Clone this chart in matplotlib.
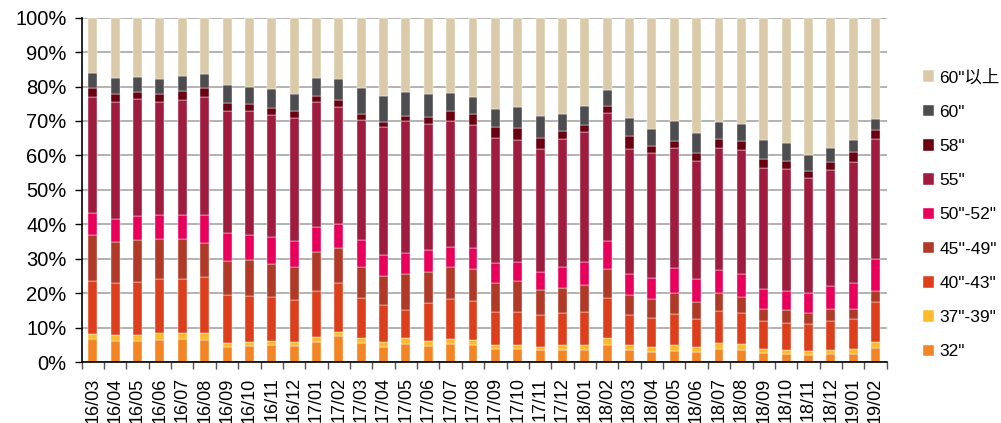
import numpy as np
import matplotlib
matplotlib.use("Agg")
import matplotlib.pyplot as plt
from matplotlib.ticker import FixedLocator

plt.rcParams['font.family'] = ['Liberation Sans', 'Noto Sans CJK SC', 'DejaVu Sans']

months = ["16/03", "16/04", "16/05", "16/06", "16/07", "16/08", "16/09", "16/10", "16/11", "16/12",
          "17/01", "17/02", "17/03", "17/04", "17/05", "17/06", "17/07", "17/08", "17/09", "17/10",
          "17/11", "17/12", "18/01", "18/02", "18/03", "18/04", "18/05", "18/06", "18/07", "18/08",
          "18/09", "18/10", "18/11", "18/12", "19/01", "19/02"]

# Cumulative share (%) at the top of each size band, bottom to top
top_32 = [6.7, 6.1, 6.1, 6.5, 6.7, 6.4, 4.4, 4.7, 5.0, 4.7,
          5.7, 7.6, 5.6, 4.5, 5.3, 4.7, 5.3, 5.0, 3.9, 3.8,
          3.4, 3.6, 3.6, 4.9, 3.6, 3.0, 3.3, 2.9, 3.8, 3.4,
          2.5, 2.2, 2.0, 2.3, 2.3, 4.2]
top_37_39 = [8.2, 7.8, 7.8, 8.3, 8.4, 8.4, 5.5, 5.9, 6.2, 5.8,
             7.3, 8.8, 7.0, 5.7, 6.9, 6.1, 6.7, 6.4, 5.0, 4.9,
             4.5, 4.8, 5.0, 7.0, 5.0, 4.4, 4.8, 4.4, 5.6, 5.3,
             3.9, 3.5, 3.2, 3.6, 3.7, 5.7]
top_40_43 = [23.6, 22.8, 23.3, 24.2, 24.0, 24.6, 19.4, 19.2, 18.9, 17.9,
             20.6, 22.8, 18.7, 16.7, 15.1, 17.0, 18.2, 17.8, 14.5, 14.4,
             13.6, 14.1, 14.5, 18.5, 13.6, 12.7, 13.9, 12.4, 14.8, 14.1,
             11.9, 11.3, 10.9, 12.0, 12.4, 17.3]
top_45_49 = [36.8, 34.9, 35.4, 35.7, 35.6, 34.5, 29.2, 29.5, 28.4, 27.5,
             32.0, 33.0, 27.5, 24.9, 25.5, 26.0, 27.5, 26.9, 22.8, 23.4,
             21.0, 21.5, 22.3, 26.9, 19.5, 18.2, 19.9, 17.3, 19.9, 18.9,
             15.5, 15.0, 14.1, 15.3, 15.5, 20.5]
top_50_52 = [43.2, 41.4, 42.3, 42.8, 42.8, 42.8, 37.4, 37.0, 36.4, 35.0,
             39.1, 40.0, 35.4, 31.0, 31.8, 32.4, 33.3, 33.0, 28.7, 29.0,
             26.1, 27.7, 29.1, 35.0, 25.5, 24.3, 27.2, 24.0, 26.6, 25.5,
             21.2, 20.6, 19.9, 22.0, 22.8, 29.9]
top_55 = [76.9, 75.5, 76.4, 75.5, 76.1, 76.9, 72.9, 72.9, 71.6, 70.9,
          75.5, 74.1, 70.3, 68.3, 70.1, 69.1, 70.1, 68.8, 65.1, 64.5,
          61.8, 64.7, 66.7, 72.2, 61.8, 60.6, 62.1, 58.3, 62.1, 61.6,
          56.4, 56.1, 53.3, 55.7, 58.1, 64.7]
top_58 = [79.7, 77.9, 78.4, 77.9, 78.8, 79.7, 75.3, 74.9, 73.9, 72.9,
          77.3, 76.2, 72.1, 69.7, 71.5, 71.3, 72.9, 72.1, 68.2, 67.9,
          65.0, 67.1, 68.7, 74.4, 65.6, 62.8, 64.1, 60.7, 64.9, 64.3,
          59.0, 58.4, 55.5, 58.1, 61.1, 67.5]
top_60 = [84.0, 82.6, 82.8, 82.2, 83.1, 83.5, 80.4, 80.0, 79.3, 77.9,
          82.5, 82.2, 79.7, 77.3, 78.4, 77.8, 78.0, 77.0, 73.6, 74.1,
          71.5, 72.1, 74.3, 79.1, 71.0, 67.7, 70.1, 66.5, 69.7, 69.0,
          64.5, 63.5, 60.1, 62.2, 64.5, 70.7]
top_all = [100.0] * len(months)

series_names = ['32"', '37"-39"', '40"-43"', "45''-49\"", '50"-52"', '55"', '58"', '60"', '60"以上']
series_tops = [top_32, top_37_39, top_40_43, top_45_49, top_50_52, top_55, top_58, top_60, top_all]
series_colors = ['#F38524', '#FDBA2A', '#DD3E1B', '#B03A27', '#E8005A',
                 '#A01C3F', '#6B0010', '#4D4D4F', '#DACAA9']

fig = plt.figure(figsize=(10.01, 4.23), dpi=100)
ax = fig.add_axes([0.0816, 0.1442, 0.8042, 0.8140])

x = np.arange(len(months))
prev = np.zeros(len(months))
handles = []
for name, tops, color in zip(series_names, series_tops, series_colors):
    tops = np.array(tops, dtype=float)
    h = ax.bar(x, tops - prev, bottom=prev, width=0.4, color=color,
               edgecolor='white', linewidth=0.3, label=name, zorder=3)
    handles.append(h)
    prev = tops

ax.set_xlim(-0.5, len(months) - 0.5)
ax.set_ylim(0, 100)

ax.set_yticks(np.arange(0, 101, 10))
ax.set_yticklabels([f"{v}%" for v in range(0, 101, 10)], fontsize=14.5)
ax.yaxis.grid(True, color='#A6A6A6', linewidth=1.2, zorder=0)
ax.tick_params(axis='y', direction='out', length=5, width=1, color='black', pad=6)

ax.set_xticks(x)
ax.set_xticklabels(months, rotation=90, fontsize=13)
ax.tick_params(axis='x', which='major', length=0, pad=11)
ax.xaxis.set_minor_locator(FixedLocator(np.arange(-0.5, len(months), 1.0)))
ax.tick_params(axis='x', which='minor', direction='out', length=5, width=1, color='#555555')

for side in ('top', 'right'):
    ax.spines[side].set_visible(False)
ax.spines['left'].set_color('black')
ax.spines['bottom'].set_color('black')
ax.spines['left'].set_linewidth(1.2)
ax.spines['bottom'].set_linewidth(1.2)
ax.spines['left'].set_zorder(4)
ax.spines['bottom'].set_zorder(4)

leg = fig.legend(handles[::-1], series_names[::-1], loc='upper left',
                 bbox_to_anchor=(0.922, 0.837), frameon=False, fontsize=12.5,
                 handlelength=0.65, handleheight=0.65, handletextpad=0.3,
                 labelspacing=1.11, borderaxespad=0, borderpad=0)

fig.savefig('out.png', dpi=100)
